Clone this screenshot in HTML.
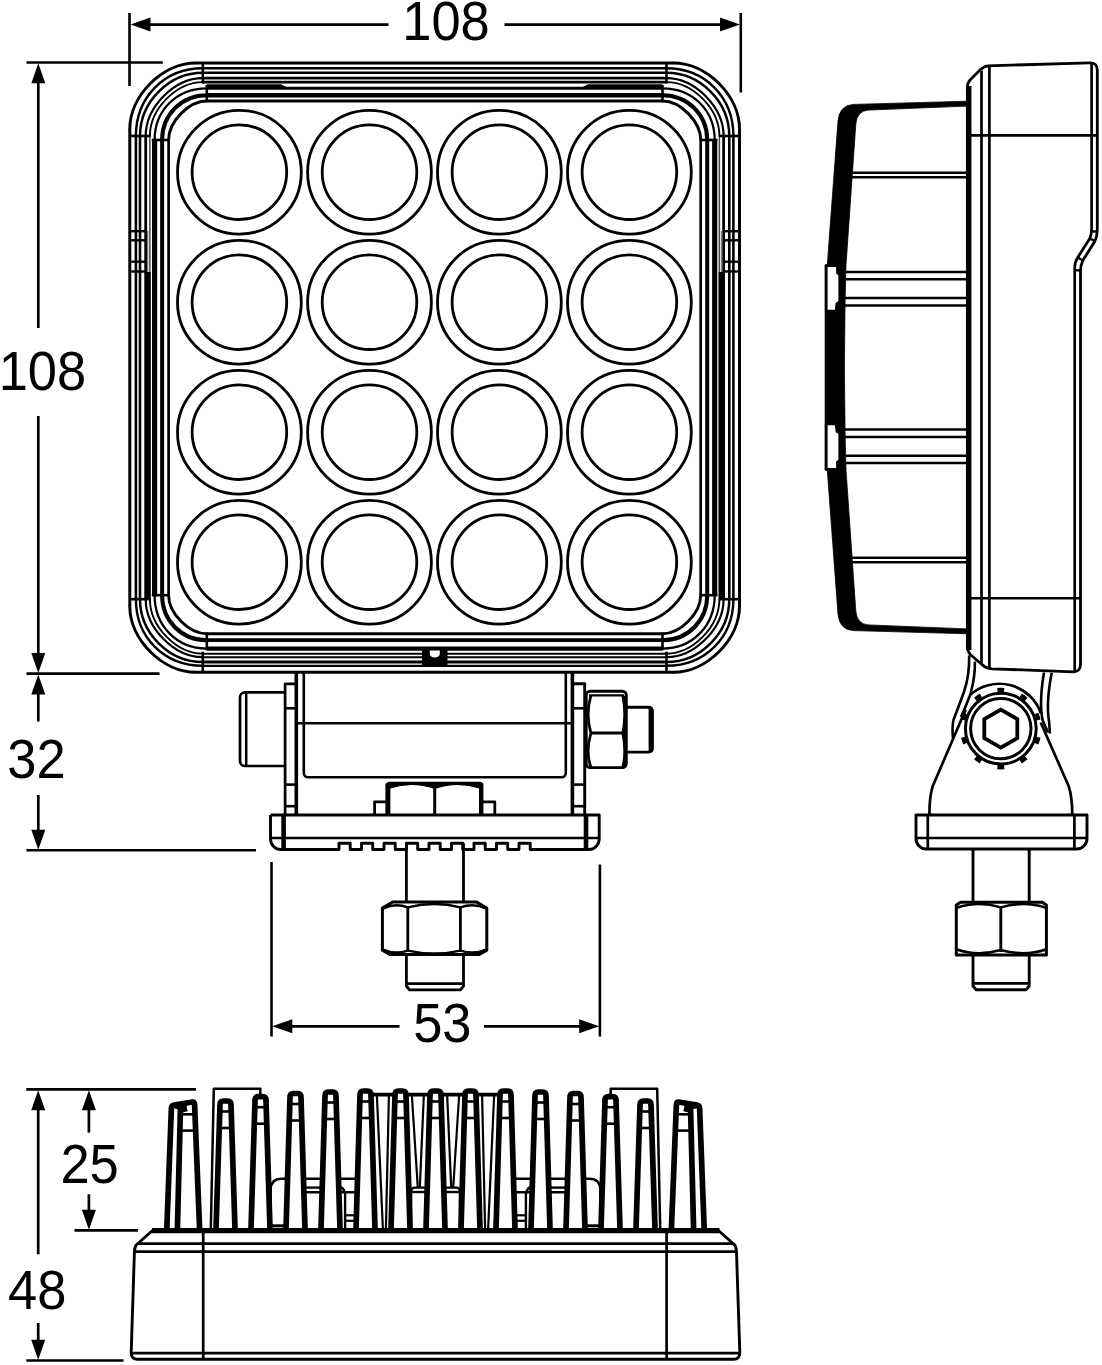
<!DOCTYPE html>
<html><head><meta charset="utf-8"><title>Dimensions</title>
<style>
html,body{margin:0;padding:0;background:#fff;}
body{width:1102px;height:1365px;overflow:hidden;}
svg{display:block;font-family:"Liberation Sans",sans-serif;}
</style></head><body>
<svg width="1102" height="1365" viewBox="0 0 1102 1365" stroke="#000" fill="none" stroke-linecap="butt" stroke-linejoin="round">
<rect x="0" y="0" width="1102" height="1365" fill="#fff" stroke="none"/>
<g id="front">
<line x1="195.8" y1="63.0" x2="673.5" y2="63.0" stroke-width="3.0" />
<line x1="195.8" y1="672.2" x2="673.5" y2="672.2" stroke-width="3.0" />
<line x1="129.8" y1="129.0" x2="129.8" y2="606.2" stroke-width="3.0" />
<line x1="739.5" y1="129.0" x2="739.5" y2="606.2" stroke-width="3.0" />
<path d="M129.8,129.0 C129.8,95.7 162.5,63.0 195.8,63.0" stroke-width="3.0" fill="none" stroke-linecap="round"/>
<path d="M129.8,606.2 C129.8,639.5 162.5,672.2 195.8,672.2" stroke-width="3.0" fill="none" stroke-linecap="round"/>
<path d="M739.5,129.0 C739.5,95.7 706.8,63.0 673.5,63.0" stroke-width="3.0" fill="none" stroke-linecap="round"/>
<path d="M739.5,606.2 C739.5,639.5 706.8,672.2 673.5,672.2" stroke-width="3.0" fill="none" stroke-linecap="round"/>
<line x1="202.8" y1="68.3" x2="666.5" y2="68.3" stroke-width="2.5" />
<line x1="202.8" y1="665.8" x2="666.5" y2="665.8" stroke-width="2.3" />
<line x1="135.9" y1="136.0" x2="135.9" y2="599.2" stroke-width="2.6" />
<line x1="733.4" y1="136.0" x2="733.4" y2="599.2" stroke-width="2.6" />
<path d="M135.9,136.0 C135.9,97.1 164.3,68.3 202.8,68.3" stroke-width="2.4" fill="none" stroke-linecap="round"/>
<path d="M135.9,599.2 C135.9,637.5 164.3,665.8 202.8,665.8" stroke-width="2.4" fill="none" stroke-linecap="round"/>
<path d="M733.4,136.0 C733.4,97.1 705.0,68.3 666.5,68.3" stroke-width="2.4" fill="none" stroke-linecap="round"/>
<path d="M733.4,599.2 C733.4,637.5 705.0,665.8 666.5,665.8" stroke-width="2.4" fill="none" stroke-linecap="round"/>
<line x1="202.8" y1="72.7" x2="666.5" y2="72.7" stroke-width="2.6" />
<line x1="202.8" y1="662.0" x2="666.5" y2="662.0" stroke-width="2.8" />
<line x1="140.0" y1="136.0" x2="140.0" y2="599.2" stroke-width="2.6" />
<line x1="729.3" y1="136.0" x2="729.3" y2="599.2" stroke-width="2.6" />
<path d="M140.0,136.0 C140.0,101.8 168.9,72.7 202.8,72.7" stroke-width="2.5" fill="none" stroke-linecap="round"/>
<path d="M140.0,599.2 C140.0,633.1 168.9,662.0 202.8,662.0" stroke-width="2.5" fill="none" stroke-linecap="round"/>
<path d="M729.3,136.0 C729.3,101.8 700.4,72.7 666.5,72.7" stroke-width="2.5" fill="none" stroke-linecap="round"/>
<path d="M729.3,599.2 C729.3,633.1 700.4,662.0 666.5,662.0" stroke-width="2.5" fill="none" stroke-linecap="round"/>
<line x1="202.8" y1="78.1" x2="666.5" y2="78.1" stroke-width="2.9" />
<line x1="202.8" y1="657.2" x2="666.5" y2="657.2" stroke-width="2.0" />
<line x1="145.7" y1="136.0" x2="145.7" y2="599.2" stroke-width="2.8" />
<line x1="723.6" y1="136.0" x2="723.6" y2="599.2" stroke-width="2.8" />
<path d="M145.7,136.0 C145.7,107.0 174.2,78.1 202.8,78.1" stroke-width="2.2" fill="none" stroke-linecap="round"/>
<path d="M145.7,599.2 C145.7,628.2 174.2,657.2 202.8,657.2" stroke-width="2.2" fill="none" stroke-linecap="round"/>
<path d="M723.6,136.0 C723.6,107.0 695.0,78.1 666.5,78.1" stroke-width="2.2" fill="none" stroke-linecap="round"/>
<path d="M723.6,599.2 C723.6,628.2 695.0,657.2 666.5,657.2" stroke-width="2.2" fill="none" stroke-linecap="round"/>
<line x1="202.8" y1="82.1" x2="666.5" y2="82.1" stroke-width="2.8" />
<line x1="202.8" y1="653.7" x2="666.5" y2="653.7" stroke-width="2.0" />
<line x1="149.9" y1="136.0" x2="149.9" y2="272.0" stroke-width="1.5" stroke="#444"/>
<line x1="719.4" y1="136.0" x2="719.4" y2="272.0" stroke-width="1.5" stroke="#444"/>
<path d="M149.9,136.0 C149.9,109.0 176.4,82.1 202.8,82.1" stroke-width="1.9" fill="none" stroke-linecap="round"/>
<path d="M149.9,599.2 C149.9,626.5 176.4,653.7 202.8,653.7" stroke-width="1.9" fill="none" stroke-linecap="round"/>
<path d="M719.4,136.0 C719.4,109.0 693.0,82.1 666.5,82.1" stroke-width="1.9" fill="none" stroke-linecap="round"/>
<path d="M719.4,599.2 C719.4,626.5 693.0,653.7 666.5,653.7" stroke-width="1.9" fill="none" stroke-linecap="round"/>
<line x1="206.8" y1="88.3" x2="662.5" y2="88.3" stroke-width="3.0" />
<line x1="206.8" y1="648.6" x2="662.5" y2="648.6" stroke-width="4.3" />
<line x1="154.6" y1="140.0" x2="154.6" y2="595.2" stroke-width="5.2" />
<line x1="714.7" y1="140.0" x2="714.7" y2="595.2" stroke-width="5.2" />
<path d="M154.6,140.0 C154.6,110.3 176.8,88.3 206.8,88.3" stroke-width="2.3" fill="none" stroke-linecap="round"/>
<path d="M154.6,595.2 C154.6,625.9 176.8,648.6 206.8,648.6" stroke-width="2.3" fill="none" stroke-linecap="round"/>
<path d="M714.7,140.0 C714.7,110.3 692.5,88.3 662.5,88.3" stroke-width="2.3" fill="none" stroke-linecap="round"/>
<path d="M714.7,595.2 C714.7,625.9 692.5,648.6 662.5,648.6" stroke-width="2.3" fill="none" stroke-linecap="round"/>
<line x1="206.8" y1="95.2" x2="662.5" y2="95.2" stroke-width="4.6" />
<line x1="206.8" y1="640.2" x2="662.5" y2="640.2" stroke-width="3.8" />
<line x1="162.1" y1="140.0" x2="162.1" y2="595.2" stroke-width="4.0" />
<line x1="707.2" y1="140.0" x2="707.2" y2="595.2" stroke-width="4.0" />
<path d="M162.1,140.0 C162.1,114.7 181.5,95.2 206.8,95.2" stroke-width="4.0" fill="none" stroke-linecap="round"/>
<path d="M162.1,595.2 C162.1,620.6 181.5,640.2 206.8,640.2" stroke-width="4.0" fill="none" stroke-linecap="round"/>
<path d="M707.2,140.0 C707.2,114.7 687.8,95.2 662.5,95.2" stroke-width="4.0" fill="none" stroke-linecap="round"/>
<path d="M707.2,595.2 C707.2,620.6 687.8,640.2 662.5,640.2" stroke-width="4.0" fill="none" stroke-linecap="round"/>
<line x1="206.8" y1="101.0" x2="662.5" y2="101.0" stroke-width="3.2" />
<line x1="206.8" y1="633.7" x2="662.5" y2="633.7" stroke-width="3.0" />
<line x1="168.6" y1="140.0" x2="168.6" y2="595.2" stroke-width="2.7" />
<line x1="700.7" y1="140.0" x2="700.7" y2="595.2" stroke-width="2.7" />
<path d="M168.6,140.0 C168.6,121.7 188.8,101.0 206.8,101.0" stroke-width="2.9" fill="none" stroke-linecap="round"/>
<path d="M168.6,595.2 C168.6,613.3 188.8,633.7 206.8,633.7" stroke-width="2.9" fill="none" stroke-linecap="round"/>
<path d="M700.7,140.0 C700.7,121.7 680.5,101.0 662.5,101.0" stroke-width="2.9" fill="none" stroke-linecap="round"/>
<path d="M700.7,595.2 C700.7,613.3 680.5,633.7 662.5,633.7" stroke-width="2.9" fill="none" stroke-linecap="round"/>
<line x1="148.1" y1="272.0" x2="148.1" y2="599.2" stroke-width="5.4" />
<line x1="147.6" y1="231.0" x2="147.6" y2="272.0" stroke-width="1.4" stroke="#777"/>
<line x1="721.2" y1="272.0" x2="721.2" y2="599.2" stroke-width="5.4" />
<line x1="721.7" y1="231.0" x2="721.7" y2="272.0" stroke-width="1.4" stroke="#777"/>
<polygon points="206.8,84.3 281.0,84.3 288.5,88.3 206.8,88.3" fill="#000" stroke-width="0"/>
<polygon points="662.5,84.3 588.0,84.3 580.5,88.3 662.5,88.3" fill="#000" stroke-width="0"/>
<line x1="202.8" y1="63.0" x2="202.8" y2="83.5" stroke-width="2.6" />
<line x1="206.8" y1="85.0" x2="206.8" y2="101.5" stroke-width="2.6" />
<line x1="129.8" y1="136.0" x2="150.3" y2="136.0" stroke-width="2.6" />
<line x1="151.8" y1="140.0" x2="168.6" y2="140.0" stroke-width="2.6" />
<line x1="202.8" y1="672.2" x2="202.8" y2="651.7" stroke-width="2.6" />
<line x1="206.8" y1="650.2" x2="206.8" y2="633.7" stroke-width="2.6" />
<line x1="129.8" y1="599.2" x2="150.3" y2="599.2" stroke-width="2.6" />
<line x1="151.8" y1="595.2" x2="168.6" y2="595.2" stroke-width="2.6" />
<line x1="666.5" y1="63.0" x2="666.5" y2="83.5" stroke-width="2.6" />
<line x1="662.5" y1="85.0" x2="662.5" y2="101.5" stroke-width="2.6" />
<line x1="739.5" y1="136.0" x2="719.0" y2="136.0" stroke-width="2.6" />
<line x1="717.5" y1="140.0" x2="700.7" y2="140.0" stroke-width="2.6" />
<line x1="666.5" y1="672.2" x2="666.5" y2="651.7" stroke-width="2.6" />
<line x1="662.5" y1="650.2" x2="662.5" y2="633.7" stroke-width="2.6" />
<line x1="739.5" y1="599.2" x2="719.0" y2="599.2" stroke-width="2.6" />
<line x1="717.5" y1="595.2" x2="700.7" y2="595.2" stroke-width="2.6" />
<line x1="129.8" y1="231.2" x2="145.4" y2="231.2" stroke-width="2.4" />
<line x1="723.9" y1="231.2" x2="739.5" y2="231.2" stroke-width="2.4" />
<line x1="129.8" y1="240.3" x2="145.4" y2="240.3" stroke-width="2.4" />
<line x1="723.9" y1="240.3" x2="739.5" y2="240.3" stroke-width="2.4" />
<line x1="129.8" y1="261.7" x2="145.4" y2="261.7" stroke-width="2.4" />
<line x1="723.9" y1="261.7" x2="739.5" y2="261.7" stroke-width="2.4" />
<line x1="129.8" y1="271.5" x2="145.4" y2="271.5" stroke-width="2.4" />
<line x1="723.9" y1="271.5" x2="739.5" y2="271.5" stroke-width="2.4" />
<path d="M422,649.5 H447.5 V666.3 H422 Z" stroke-width="0" fill="#000" />
<path d="M429.8,650.5 H439.8 V654 A5,3.5 0 0 1 429.8,654 Z" stroke-width="0" fill="#fff" />
<circle cx="239.4" cy="172.2" r="61.9" stroke-width="2.8" fill="none"/>
<circle cx="239.4" cy="172.2" r="47.3" stroke-width="2.8" fill="none"/>
<circle cx="239.4" cy="302.2" r="61.9" stroke-width="2.8" fill="none"/>
<circle cx="239.4" cy="302.2" r="47.3" stroke-width="2.8" fill="none"/>
<circle cx="239.4" cy="432.2" r="61.9" stroke-width="2.8" fill="none"/>
<circle cx="239.4" cy="432.2" r="47.3" stroke-width="2.8" fill="none"/>
<circle cx="239.4" cy="562.2" r="61.9" stroke-width="2.8" fill="none"/>
<circle cx="239.4" cy="562.2" r="47.3" stroke-width="2.8" fill="none"/>
<circle cx="369.5" cy="172.2" r="61.9" stroke-width="2.8" fill="none"/>
<circle cx="369.5" cy="172.2" r="47.3" stroke-width="2.8" fill="none"/>
<circle cx="369.5" cy="302.2" r="61.9" stroke-width="2.8" fill="none"/>
<circle cx="369.5" cy="302.2" r="47.3" stroke-width="2.8" fill="none"/>
<circle cx="369.5" cy="432.2" r="61.9" stroke-width="2.8" fill="none"/>
<circle cx="369.5" cy="432.2" r="47.3" stroke-width="2.8" fill="none"/>
<circle cx="369.5" cy="562.2" r="61.9" stroke-width="2.8" fill="none"/>
<circle cx="369.5" cy="562.2" r="47.3" stroke-width="2.8" fill="none"/>
<circle cx="499.4" cy="172.2" r="61.9" stroke-width="2.8" fill="none"/>
<circle cx="499.4" cy="172.2" r="47.3" stroke-width="2.8" fill="none"/>
<circle cx="499.4" cy="302.2" r="61.9" stroke-width="2.8" fill="none"/>
<circle cx="499.4" cy="302.2" r="47.3" stroke-width="2.8" fill="none"/>
<circle cx="499.4" cy="432.2" r="61.9" stroke-width="2.8" fill="none"/>
<circle cx="499.4" cy="432.2" r="47.3" stroke-width="2.8" fill="none"/>
<circle cx="499.4" cy="562.2" r="61.9" stroke-width="2.8" fill="none"/>
<circle cx="499.4" cy="562.2" r="47.3" stroke-width="2.8" fill="none"/>
<circle cx="629.4" cy="172.2" r="61.9" stroke-width="2.8" fill="none"/>
<circle cx="629.4" cy="172.2" r="47.3" stroke-width="2.8" fill="none"/>
<circle cx="629.4" cy="302.2" r="61.9" stroke-width="2.8" fill="none"/>
<circle cx="629.4" cy="302.2" r="47.3" stroke-width="2.8" fill="none"/>
<circle cx="629.4" cy="432.2" r="61.9" stroke-width="2.8" fill="none"/>
<circle cx="629.4" cy="432.2" r="47.3" stroke-width="2.8" fill="none"/>
<circle cx="629.4" cy="562.2" r="61.9" stroke-width="2.8" fill="none"/>
<circle cx="629.4" cy="562.2" r="47.3" stroke-width="2.8" fill="none"/>
</g>
<g id="bracket">
<path d="M284.4,692.4 H245 A5,5 0 0 0 240,697.4 V761 A5,5 0 0 0 245,766 H284.4" stroke-width="2.7" fill="none" />
<line x1="246.2" y1="693.0" x2="246.2" y2="765.5" stroke-width="2.5" />
<path d="M285.1,815 V683.8 H296.3" stroke-width="2.7" fill="none" />
<line x1="296.3" y1="672.5" x2="296.3" y2="815.0" stroke-width="3.6" />
<line x1="285.1" y1="708.3" x2="296.3" y2="708.3" stroke-width="2.6" />
<line x1="285.1" y1="784.6" x2="296.3" y2="784.6" stroke-width="2.6" />
<line x1="285.1" y1="806.2" x2="296.3" y2="806.2" stroke-width="2.6" />
<path d="M584.7,815 V683.8 H572" stroke-width="2.9" fill="none" />
<line x1="572.4" y1="672.5" x2="572.4" y2="815.0" stroke-width="3.6" />
<line x1="572.4" y1="708.3" x2="584.7" y2="708.3" stroke-width="2.6" />
<line x1="572.4" y1="784.6" x2="584.7" y2="784.6" stroke-width="2.6" />
<line x1="572.4" y1="806.2" x2="584.7" y2="806.2" stroke-width="2.6" />
<path d="M303.8,672.5 V773 A4.3,4.3 0 0 0 308.1,777.3 H561.5 A4.3,4.3 0 0 0 565.8,773 V672.5" stroke-width="2.6" fill="none" />
<line x1="297.0" y1="723.2" x2="572.0" y2="723.2" stroke-width="2.6" />
<path d="M388.6,815 V783.3 H480.8 V815" stroke-width="3.2" fill="none" />
<line x1="387.8" y1="783.3" x2="387.8" y2="815.0" stroke-width="4.8" />
<line x1="481.2" y1="783.3" x2="481.2" y2="815.0" stroke-width="4.4" />
<line x1="434.7" y1="784.0" x2="434.7" y2="815.0" stroke-width="3.0" />
<path d="M389.2,783.3 H480.3 V788.2 Q457.5,780.6 434.7,788.4 Q412,780.6 389.2,788.2 Z" stroke-width="1.2" fill="#000" />
<path d="M374.6,815 V801.8 H389" stroke-width="2.8" fill="none" />
<path d="M494.8,815 V801.8 H480.5" stroke-width="2.8" fill="none" />
<path d="M270.5,815 H599.2 V839 A10.5,10.5 0 0 1 588.7,849.5 H530.4 " stroke-width="2.9" fill="none" />
<path d="M270.5,815 V839 A10.5,10.5 0 0 0 281,849.5 H339.0 V843.2 H350.2 V849.5 H361.5 V843.2 H372.7 V849.5 H384.0 V843.2 H395.2 V849.5 H406.5 V843.2 H417.7 V849.5 H429.0 V843.2 H440.2 V849.5 H451.5 V843.2 H462.7 V849.5 H474.0 V843.2 H485.2 V849.5 H496.5 V843.2 H507.7 V849.5 H519.0 V843.2 H530.2 V849.5 H588.7" stroke-width="2.9" fill="none" />
<line x1="270.5" y1="838.0" x2="599.2" y2="838.0" stroke-width="2.7" />
<line x1="283.6" y1="815.0" x2="283.6" y2="849.5" stroke-width="4.6" />
<line x1="586.0" y1="815.0" x2="586.0" y2="849.5" stroke-width="4.6" />
<line x1="406.4" y1="843.2" x2="406.4" y2="902.0" stroke-width="2.8" />
<line x1="463.5" y1="843.2" x2="463.5" y2="902.0" stroke-width="2.8" />
<path d="M406.4,955 V986 L409.5,989.8 H460.4 L463.5,986 V955" stroke-width="2.8" fill="none" />
<line x1="407.0" y1="983.6" x2="463.0" y2="983.6" stroke-width="2.6" />
<path d="M393,901.9 H476.2 L486.8,908 V950.2 L479.4,954.4 H389.8 L382.4,950.2 V908 Z" stroke-width="3.0" fill="none" />
<line x1="407.8" y1="907.0" x2="407.8" y2="951.0" stroke-width="2.8" />
<line x1="460.4" y1="907.0" x2="460.4" y2="951.0" stroke-width="2.8" />
<path d="M383,908.6 Q395.4,902.6 407.8,907.4 Q434.5,900.8 460.4,907.4 Q473.5,902.6 486.2,908.6" stroke-width="2.5" fill="none" />
<path d="M383,949.6 Q395.4,955 407.8,950.6 Q434.5,956.6 460.4,950.6 Q473.5,955 486.2,949.6" stroke-width="2.5" fill="none" />
<path d="M590.2,691.2 H622.3 A4,4 0 0 1 626.3,695.2 V763.6 A4,4 0 0 1 622.3,767.6 H590.2 A4,4 0 0 1 586.2,763.6 V695.2 A4,4 0 0 1 590.2,691.2 Z" stroke-width="2.9" fill="none" />
<line x1="590.9" y1="733.1" x2="623.0" y2="733.1" stroke-width="3.0" />
<line x1="589.0" y1="695.4" x2="624.0" y2="695.4" stroke-width="2.3" />
<path d="M590.9,695.5 Q585.4,714.3 590.9,733.1 Q585.4,752 590.9,767" stroke-width="2.7" fill="none" />
<path d="M622.8,695.5 Q626.6,714.3 622.8,733.1 Q626.6,752 622.8,767" stroke-width="2.7" fill="none" />
<path d="M622.8,696 Q625.8,714.3 622.8,733.1 Q625.8,752 622.8,767 L626,767 L626,696 Z" stroke-width="0" fill="#000" />
<path d="M626.3,707.2 H648.8 A3.6,3.6 0 0 1 652.4,710.8 V748.5 A3.6,3.6 0 0 1 648.8,752.1 H626.3" stroke-width="2.9" fill="none" />
<path d="M649.4,707.2 A3.4,3.4 0 0 1 652.4,710.8 V748.5 A3.4,3.4 0 0 1 649.4,752.1 Z" stroke-width="1.6" fill="#000" />
</g>
<g id="dims">
<line x1="129.5" y1="13.0" x2="129.5" y2="86.0" stroke-width="2.6" />
<line x1="740.8" y1="13.0" x2="740.8" y2="92.5" stroke-width="2.6" />
<line x1="140.0" y1="24.6" x2="388.5" y2="24.6" stroke-width="2.7" />
<line x1="504.5" y1="24.6" x2="730.0" y2="24.6" stroke-width="2.7" />
<polygon points="130.5,24.6 150.5,17.6 150.5,31.6" fill="#000" stroke-width="0"/>
<polygon points="740.0,24.6 720.0,17.6 720.0,31.6" fill="#000" stroke-width="0"/>
<text transform="translate(446.0,40.0) scale(0.94,1)" x="0" y="0" font-size="55.8" text-anchor="middle" stroke="none" fill="#000">108</text>
<line x1="26.5" y1="62.5" x2="162.8" y2="62.5" stroke-width="2.6" />
<line x1="26.5" y1="673.6" x2="159.5" y2="673.6" stroke-width="2.6" />
<line x1="26.5" y1="850.3" x2="256.0" y2="850.3" stroke-width="2.6" />
<line x1="38.3" y1="75.0" x2="38.3" y2="328.0" stroke-width="2.7" />
<line x1="38.3" y1="416.0" x2="38.3" y2="662.0" stroke-width="2.7" />
<polygon points="38.3,63.3 31.3,83.3 45.3,83.3" fill="#000" stroke-width="0"/>
<polygon points="38.3,673.0 31.3,653.0 45.3,653.0" fill="#000" stroke-width="0"/>
<text transform="translate(42.4,390.0) scale(0.94,1)" x="0" y="0" font-size="55.8" text-anchor="middle" stroke="none" fill="#000">108</text>
<polygon points="38.3,674.4 31.3,694.4 45.3,694.4" fill="#000" stroke-width="0"/>
<line x1="38.3" y1="690.0" x2="38.3" y2="721.5" stroke-width="2.7" />
<line x1="38.3" y1="795.0" x2="38.3" y2="838.0" stroke-width="2.7" />
<polygon points="38.3,849.8 31.3,829.8 45.3,829.8" fill="#000" stroke-width="0"/>
<text transform="translate(36.5,778.0) scale(0.94,1)" x="0" y="0" font-size="55.8" text-anchor="middle" stroke="none" fill="#000">32</text>
<line x1="271.5" y1="862.0" x2="271.5" y2="1036.5" stroke-width="2.6" />
<line x1="599.9" y1="864.5" x2="599.9" y2="1036.5" stroke-width="2.6" />
<line x1="283.0" y1="1026.3" x2="399.5" y2="1026.3" stroke-width="2.7" />
<line x1="484.0" y1="1026.3" x2="589.0" y2="1026.3" stroke-width="2.7" />
<polygon points="272.3,1026.3 292.3,1019.3 292.3,1033.3" fill="#000" stroke-width="0"/>
<polygon points="599.2,1026.3 579.2,1019.3 579.2,1033.3" fill="#000" stroke-width="0"/>
<text transform="translate(442.3,1041.7) scale(0.94,1)" x="0" y="0" font-size="55.8" text-anchor="middle" stroke="none" fill="#000">53</text>
<line x1="26.3" y1="1089.4" x2="196.0" y2="1089.4" stroke-width="2.6" />
<line x1="26.3" y1="1360.5" x2="123.5" y2="1360.5" stroke-width="2.6" />
<line x1="74.5" y1="1230.4" x2="138.0" y2="1230.4" stroke-width="2.6" />
<polygon points="38.2,1090.2 31.2,1110.2 45.2,1110.2" fill="#000" stroke-width="0"/>
<line x1="38.2" y1="1100.0" x2="38.2" y2="1254.3" stroke-width="2.7" />
<line x1="38.2" y1="1323.0" x2="38.2" y2="1350.0" stroke-width="2.7" />
<polygon points="38.2,1359.8 31.2,1339.8 45.2,1339.8" fill="#000" stroke-width="0"/>
<text transform="translate(37.2,1309.1) scale(0.94,1)" x="0" y="0" font-size="55.8" text-anchor="middle" stroke="none" fill="#000">48</text>
<polygon points="88.9,1090.2 81.9,1110.2 95.9,1110.2" fill="#000" stroke-width="0"/>
<line x1="88.9" y1="1100.0" x2="88.9" y2="1132.6" stroke-width="2.7" />
<line x1="88.9" y1="1194.3" x2="88.9" y2="1220.0" stroke-width="2.7" />
<polygon points="88.9,1229.7 81.9,1209.7 95.9,1209.7" fill="#000" stroke-width="0"/>
<text transform="translate(89.6,1182.7) scale(0.94,1)" x="0" y="0" font-size="55.8" text-anchor="middle" stroke="none" fill="#000">25</text>
</g>
<g id="side">
<path d="M967.7,101.2 L853.5,104.4 Q839.5,105.2 838,120.8 L827.3,264.6 L825.1,265.0 L825.1,367.5 L844.4,367.5 L845.1,300.0 L846,265.0 L855.8,124.1 Q857,111.0 868,110.1 L967.7,106.1 Z" stroke-width="0.8" fill="#000" />
<path d="M967.7,633.8 L853.5,630.6 Q839.5,629.8 838,614.2 L827.3,470.4 L825.1,470.0 L825.1,367.5 L844.4,367.5 L845.1,435.0 L846,470.0 L855.8,610.9 Q857,624.0 868,624.9 L967.7,628.9 Z" stroke-width="0.8" fill="#000" />
<path d="M824.9,264.4 H830 V311.2 H824.9 Z" stroke-width="0" fill="#000" />
<path d="M827.6,267.0 H836.1 V273.5 L838.4,275.2 V301.0 L835.6,303.0 L834.9,309.8 H827.6 Z" stroke-width="0" fill="#fff" />
<path d="M824.9,470.6 H830 V423.8 H824.9 Z" stroke-width="0" fill="#000" />
<path d="M827.6,468.0 H836.1 V461.5 L838.4,459.8 V434.0 L835.6,432.0 L834.9,425.2 H827.6 Z" stroke-width="0" fill="#fff" />
<line x1="851.5" y1="172.8" x2="967.0" y2="172.8" stroke-width="2.5" />
<line x1="851.5" y1="177.2" x2="967.0" y2="177.2" stroke-width="2.5" />
<line x1="851.5" y1="562.2" x2="967.0" y2="562.2" stroke-width="2.5" />
<line x1="851.5" y1="557.8" x2="967.0" y2="557.8" stroke-width="2.5" />
<line x1="845.5" y1="272.0" x2="967.0" y2="272.0" stroke-width="2.5" />
<line x1="845.5" y1="279.2" x2="967.0" y2="279.2" stroke-width="2.5" />
<line x1="845.5" y1="463.0" x2="967.0" y2="463.0" stroke-width="2.5" />
<line x1="845.5" y1="455.8" x2="967.0" y2="455.8" stroke-width="2.5" />
<line x1="845.0" y1="298.1" x2="967.0" y2="298.1" stroke-width="2.5" />
<line x1="845.0" y1="305.5" x2="967.0" y2="305.5" stroke-width="2.5" />
<line x1="845.0" y1="436.9" x2="967.0" y2="436.9" stroke-width="2.5" />
<line x1="845.0" y1="429.5" x2="967.0" y2="429.5" stroke-width="2.5" />
<line x1="968.7" y1="86.0" x2="968.7" y2="650.0" stroke-width="5.5" />
<line x1="981.5" y1="70.5" x2="981.5" y2="664.0" stroke-width="2.7" />
<line x1="989.4" y1="66.0" x2="989.4" y2="668.8" stroke-width="2.7" />
<path d="M967.4,92 L967.4,87 Q967.4,83 970,80 L980.5,69.6 Q984,66 988.5,65.8 L1089.5,62.9 Q1097.3,62.6 1097.3,70 L1097.3,229 Q1097.3,236 1095,241 L1082.8,260.6 Q1080.5,265 1080.5,271 L1080.5,664.5 Q1080.5,672 1073,671.8 L992,668.8 Q986,668.4 982.5,665 L970.5,654.7 Q967.3,651.5 967.3,645" stroke-width="2.8" fill="none" />
<path d="M1091.6,63.5 L1091.6,229 Q1091.6,235 1089.6,238.8 L1078,257 Q1074.7,262 1074.7,268 L1074.7,671.3" stroke-width="2.7" fill="none" />
<line x1="1091.6" y1="231.5" x2="1097.3" y2="231.5" stroke-width="2.4" />
<line x1="1090.0" y1="238.6" x2="1095.0" y2="241.0" stroke-width="2.4" />
<line x1="1078.0" y1="257.6" x2="1082.6" y2="260.6" stroke-width="2.4" />
<line x1="1074.7" y1="270.3" x2="1080.5" y2="270.3" stroke-width="2.4" />
<line x1="969.0" y1="135.4" x2="1097.3" y2="135.4" stroke-width="2.6" />
<line x1="969.0" y1="598.3" x2="1080.5" y2="598.3" stroke-width="2.6" />
<path d="M969.2,655.5 Q969.5,676 964,691.7 Q960,703 953.6,719.5 Q951.8,727 953,738" stroke-width="2.6" fill="none" />
<path d="M974.9,661.5 Q975,676 971.9,688 L970.5,694 Q966,706 961,717" stroke-width="2.6" fill="none" />
<path d="M1051.7,672.8 C1048,692 1047,710 1049.1,721.7 L1049.9,733.5" stroke-width="2.6" fill="none" />
<path d="M1044,672.5 C1041,690 1040,708 1042.7,720.4 L1048,732.5" stroke-width="2.6" fill="none" />
<path d="M965.7,709.5 L932.8,786 Q929.4,796 929.4,815" stroke-width="2.7" fill="none" />
<path d="M1040.7,722.5 L1068.6,786 Q1072.3,797 1072.3,815" stroke-width="2.7" fill="none" />
<path d="M970.5,694.6 A44,44 0 0 1 1041,713.5" stroke-width="2.7" fill="none" />
<circle cx="1000.8" cy="728.6" r="35.4" stroke-width="3.0" fill="none"/>
<circle cx="1000.8" cy="728.6" r="30.2" stroke-width="3.0" fill="none"/>
<polygon points="1017.3,738.1 1000.8,747.6 984.3,738.1 984.3,719.1 1000.8,709.6 1017.3,719.1" stroke-width="3.8" fill="none" stroke-linejoin="miter"/>
<path d="M1038.4,719.9 A38.6,38.6 0 0 0 1036.3,713.5" stroke-width="4.4" fill="none" />
<path d="M1026.1,699.5 A38.6,38.6 0 0 0 1020.7,695.5" stroke-width="4.4" fill="none" />
<path d="M1004.2,690.1 A38.6,38.6 0 0 0 997.4,690.1" stroke-width="4.4" fill="none" />
<path d="M980.9,695.5 A38.6,38.6 0 0 0 975.5,699.5" stroke-width="4.4" fill="none" />
<path d="M965.3,713.5 A38.6,38.6 0 0 0 963.2,719.9" stroke-width="4.4" fill="none" />
<path d="M963.2,737.3 A38.6,38.6 0 0 0 965.3,743.7" stroke-width="4.4" fill="none" />
<path d="M975.5,757.7 A38.6,38.6 0 0 0 980.9,761.7" stroke-width="4.4" fill="none" />
<path d="M997.4,767.1 A38.6,38.6 0 0 0 1004.2,767.1" stroke-width="4.4" fill="none" />
<path d="M1020.7,761.7 A38.6,38.6 0 0 0 1026.1,757.7" stroke-width="4.4" fill="none" />
<path d="M1036.3,743.7 A38.6,38.6 0 0 0 1038.4,737.3" stroke-width="4.4" fill="none" />
<path d="M916,815 H1087 V838.5 A10.5,10.5 0 0 1 1076.5,849 H926.5 A10.5,10.5 0 0 1 916,838.5 Z" stroke-width="2.9" fill="none" />
<line x1="916.0" y1="838.0" x2="1087.0" y2="838.0" stroke-width="2.7" />
<line x1="927.8" y1="815.0" x2="927.8" y2="849.0" stroke-width="2.7" />
<line x1="1074.4" y1="815.0" x2="1074.4" y2="849.0" stroke-width="2.7" />
<line x1="973.0" y1="849.0" x2="973.0" y2="901.5" stroke-width="2.9" />
<line x1="1029.2" y1="849.0" x2="1029.2" y2="901.5" stroke-width="2.9" />
<path d="M973,955.5 V986 L976,989.7 H1026.2 L1029.2,986 V955.5" stroke-width="2.9" fill="none" />
<line x1="974.0" y1="983.4" x2="1028.5" y2="983.4" stroke-width="2.6" />
<path d="M960.5,902.2 H1042.2 L1046.4,905 V955 H956.3 V905 Z" stroke-width="3.0" fill="none" />
<line x1="1000.8" y1="906.0" x2="1000.8" y2="952.0" stroke-width="2.9" />
<path d="M957,907.8 Q978,900.6 1000.8,907.4 Q1024,900.6 1046,907.8" stroke-width="2.5" fill="none" />
<path d="M957,949.5 Q978,956.6 1000.8,950 Q1024,956.6 1046,949.5" stroke-width="2.5" fill="none" />
</g>
<g id="bottomview">
<path d="M210.8,1229 L213.8,1088.8 H260.3 V1097" stroke-width="2.5" fill="none" />
<path d="M270.6,1229 V1190 Q270.6,1178.8 282.0,1178.8 H356.0" stroke-width="2.6" fill="none" />
<line x1="300.0" y1="1187.6" x2="325.0" y2="1187.6" stroke-width="2.4" />
<line x1="300.0" y1="1192.3" x2="356.0" y2="1192.3" stroke-width="2.6" />
<path d="M338.5,1186.5 Q343.5,1187 344.6,1192.3" stroke-width="2.4" fill="none" />
<line x1="345.1" y1="1192.3" x2="345.1" y2="1229.0" stroke-width="2.4" />
<line x1="346.0" y1="1215.3" x2="355.0" y2="1215.3" stroke-width="2.2" />
<line x1="346.0" y1="1220.8" x2="355.0" y2="1220.8" stroke-width="2.2" />
<line x1="272.0" y1="1225.8" x2="284.0" y2="1225.8" stroke-width="3.0" />
<line x1="376.9" y1="1096.0" x2="382.9" y2="1229.0" stroke-width="2.2" />
<line x1="388.9" y1="1096.0" x2="385.9" y2="1229.0" stroke-width="2.2" />
<line x1="411.9" y1="1096.0" x2="417.8" y2="1187.8" stroke-width="2.2" />
<line x1="423.8" y1="1096.0" x2="419.8" y2="1187.8" stroke-width="2.2" />
<path d="M411.1,1229 V1191.5 Q411.3,1187.6 415.0,1187.6 H425.0" stroke-width="2.4" fill="none" />
<line x1="411.1" y1="1192.0" x2="425.0" y2="1192.0" stroke-width="2.4" />
<path d="M660.2,1229 L657.2,1088.8 H610.7 V1097" stroke-width="2.5" fill="none" />
<path d="M600.4,1229 V1190 Q600.4,1178.8 589.0,1178.8 H515.0" stroke-width="2.6" fill="none" />
<line x1="571.0" y1="1187.6" x2="546.0" y2="1187.6" stroke-width="2.4" />
<line x1="571.0" y1="1192.3" x2="515.0" y2="1192.3" stroke-width="2.6" />
<path d="M532.5,1186.5 Q527.5,1187 526.4,1192.3" stroke-width="2.4" fill="none" />
<line x1="525.9" y1="1192.3" x2="525.9" y2="1229.0" stroke-width="2.4" />
<line x1="525.0" y1="1215.3" x2="516.0" y2="1215.3" stroke-width="2.2" />
<line x1="525.0" y1="1220.8" x2="516.0" y2="1220.8" stroke-width="2.2" />
<line x1="599.0" y1="1225.8" x2="587.0" y2="1225.8" stroke-width="3.0" />
<line x1="494.1" y1="1096.0" x2="488.1" y2="1229.0" stroke-width="2.2" />
<line x1="482.1" y1="1096.0" x2="485.1" y2="1229.0" stroke-width="2.2" />
<line x1="459.1" y1="1096.0" x2="453.2" y2="1187.8" stroke-width="2.2" />
<line x1="447.2" y1="1096.0" x2="451.2" y2="1187.8" stroke-width="2.2" />
<path d="M459.9,1229 V1191.5 Q459.7,1187.6 456.0,1187.6 H446.0" stroke-width="2.4" fill="none" />
<line x1="459.9" y1="1192.0" x2="446.0" y2="1192.0" stroke-width="2.4" />
<line x1="370.0" y1="1094.6" x2="501.0" y2="1094.6" stroke-width="3.6" />
<path d="M216.0,1229 L220.0,1105.0 Q220.0,1101.0 223.3,1101.0 L227.7,1101.0 Q231.0,1101.0 231.0,1105.0 L235.0,1229" stroke-width="5.7" fill="#fff"/>
<line x1="220.3" y1="1111.5" x2="230.7" y2="1111.5" stroke-width="2.6" />
<line x1="219.7" y1="1128.0" x2="231.3" y2="1128.0" stroke-width="2.6" />
<path d="M251.0,1229 L255.0,1100.7 Q255.0,1096.7 258.3,1096.7 L262.7,1096.7 Q266.0,1096.7 266.0,1100.7 L270.0,1229" stroke-width="5.7" fill="#fff"/>
<line x1="255.3" y1="1107.2" x2="265.7" y2="1107.2" stroke-width="2.6" />
<line x1="254.7" y1="1123.7" x2="266.3" y2="1123.7" stroke-width="2.6" />
<path d="M286.0,1229 L290.0,1097.5 Q290.0,1093.5 293.3,1093.5 L297.7,1093.5 Q301.0,1093.5 301.0,1097.5 L305.0,1229" stroke-width="5.7" fill="#fff"/>
<line x1="290.3" y1="1104.0" x2="300.7" y2="1104.0" stroke-width="2.6" />
<line x1="289.7" y1="1120.5" x2="301.3" y2="1120.5" stroke-width="2.6" />
<path d="M321.0,1229 L325.0,1096.0 Q325.0,1092.0 328.3,1092.0 L332.7,1092.0 Q336.0,1092.0 336.0,1096.0 L340.0,1229" stroke-width="5.7" fill="#fff"/>
<line x1="325.3" y1="1102.5" x2="335.7" y2="1102.5" stroke-width="2.6" />
<line x1="324.7" y1="1119.0" x2="336.3" y2="1119.0" stroke-width="2.6" />
<path d="M356.0,1229 L360.0,1095.0 Q360.0,1091.0 363.3,1091.0 L367.7,1091.0 Q371.0,1091.0 371.0,1095.0 L375.0,1229" stroke-width="5.7" fill="#fff"/>
<line x1="360.3" y1="1101.5" x2="370.7" y2="1101.5" stroke-width="2.6" />
<line x1="359.7" y1="1118.0" x2="371.3" y2="1118.0" stroke-width="2.6" />
<path d="M391.0,1229 L395.0,1095.0 Q395.0,1091.0 398.3,1091.0 L402.7,1091.0 Q406.0,1091.0 406.0,1095.0 L410.0,1229" stroke-width="5.7" fill="#fff"/>
<line x1="395.3" y1="1101.5" x2="405.7" y2="1101.5" stroke-width="2.6" />
<line x1="394.7" y1="1118.0" x2="406.3" y2="1118.0" stroke-width="2.6" />
<path d="M426.0,1229 L430.0,1095.0 Q430.0,1091.0 433.3,1091.0 L437.7,1091.0 Q441.0,1091.0 441.0,1095.0 L445.0,1229" stroke-width="5.7" fill="#fff"/>
<line x1="430.3" y1="1101.5" x2="440.7" y2="1101.5" stroke-width="2.6" />
<line x1="429.7" y1="1118.0" x2="441.3" y2="1118.0" stroke-width="2.6" />
<path d="M461.0,1229 L465.0,1095.0 Q465.0,1091.0 468.3,1091.0 L472.7,1091.0 Q476.0,1091.0 476.0,1095.0 L480.0,1229" stroke-width="5.7" fill="#fff"/>
<line x1="465.3" y1="1101.5" x2="475.7" y2="1101.5" stroke-width="2.6" />
<line x1="464.7" y1="1118.0" x2="476.3" y2="1118.0" stroke-width="2.6" />
<path d="M496.0,1229 L500.0,1095.0 Q500.0,1091.0 503.3,1091.0 L507.7,1091.0 Q511.0,1091.0 511.0,1095.0 L515.0,1229" stroke-width="5.7" fill="#fff"/>
<line x1="500.3" y1="1101.5" x2="510.7" y2="1101.5" stroke-width="2.6" />
<line x1="499.7" y1="1118.0" x2="511.3" y2="1118.0" stroke-width="2.6" />
<path d="M531.0,1229 L535.0,1096.0 Q535.0,1092.0 538.3,1092.0 L542.7,1092.0 Q546.0,1092.0 546.0,1096.0 L550.0,1229" stroke-width="5.7" fill="#fff"/>
<line x1="535.3" y1="1102.5" x2="545.7" y2="1102.5" stroke-width="2.6" />
<line x1="534.7" y1="1119.0" x2="546.3" y2="1119.0" stroke-width="2.6" />
<path d="M566.0,1229 L570.0,1097.5 Q570.0,1093.5 573.3,1093.5 L577.7,1093.5 Q581.0,1093.5 581.0,1097.5 L585.0,1229" stroke-width="5.7" fill="#fff"/>
<line x1="570.3" y1="1104.0" x2="580.7" y2="1104.0" stroke-width="2.6" />
<line x1="569.7" y1="1120.5" x2="581.3" y2="1120.5" stroke-width="2.6" />
<path d="M601.0,1229 L605.0,1100.7 Q605.0,1096.7 608.3,1096.7 L612.7,1096.7 Q616.0,1096.7 616.0,1100.7 L620.0,1229" stroke-width="5.7" fill="#fff"/>
<line x1="605.3" y1="1107.2" x2="615.7" y2="1107.2" stroke-width="2.6" />
<line x1="604.7" y1="1123.7" x2="616.3" y2="1123.7" stroke-width="2.6" />
<path d="M636.0,1229 L640.0,1105.0 Q640.0,1101.0 643.3,1101.0 L647.7,1101.0 Q651.0,1101.0 651.0,1105.0 L655.0,1229" stroke-width="5.7" fill="#fff"/>
<line x1="640.3" y1="1111.5" x2="650.7" y2="1111.5" stroke-width="2.6" />
<line x1="639.7" y1="1128.0" x2="651.3" y2="1128.0" stroke-width="2.6" />
<path d="M166.8,1229 L171.4,1108 Q171.6,1105.4 174.0,1105 L192.5,1102 Q194.4,1102 194.6,1104.5 L199.6,1229" stroke-width="5.7" fill="#fff"/>
<path d="M177.4,1229 L180.4,1110 L187.0,1108.4" stroke-width="5.7" fill="none" />
<path d="M172.0,1106.5 L186.0,1105 L183.5,1110 Z" stroke-width="2.0" fill="#000" />
<line x1="182.0" y1="1114.3" x2="193.0" y2="1114.3" stroke-width="2.6" />
<line x1="182.0" y1="1130.6" x2="194.0" y2="1130.6" stroke-width="2.6" />
<path d="M704.2,1229 L699.6,1108 Q699.4,1105.4 697.0,1105 L678.5,1102 Q676.6,1102 676.4,1104.5 L671.4,1229" stroke-width="5.7" fill="#fff"/>
<path d="M693.6,1229 L690.6,1110 L684.0,1108.4" stroke-width="5.7" fill="none" />
<path d="M699.0,1106.5 L685.0,1105 L687.5,1110 Z" stroke-width="2.0" fill="#000" />
<line x1="689.0" y1="1114.3" x2="678.0" y2="1114.3" stroke-width="2.6" />
<line x1="689.0" y1="1130.6" x2="677.0" y2="1130.6" stroke-width="2.6" />
<line x1="152.0" y1="1230.6" x2="719.5" y2="1230.6" stroke-width="5.4" />
<path d="M152.5,1230.5 L136.2,1245 Q134.6,1247 134.4,1252 L131.2,1352 Q131,1359.3 137.5,1359.3 H733.5 Q740,1359.3 739.8,1352 L736.5,1252 Q736.3,1247 734.7,1245 L718.5,1230.5" stroke-width="2.9" fill="none" />
<line x1="138.0" y1="1243.6" x2="733.0" y2="1243.6" stroke-width="2.7" />
<line x1="134.4" y1="1251.6" x2="736.5" y2="1251.6" stroke-width="2.7" />
<line x1="131.3" y1="1353.2" x2="739.7" y2="1353.2" stroke-width="2.7" />
<line x1="203.2" y1="1231.0" x2="203.2" y2="1359.0" stroke-width="2.7" />
<line x1="666.6" y1="1231.0" x2="666.6" y2="1359.0" stroke-width="2.7" />
</g>
</svg>
</body></html>
